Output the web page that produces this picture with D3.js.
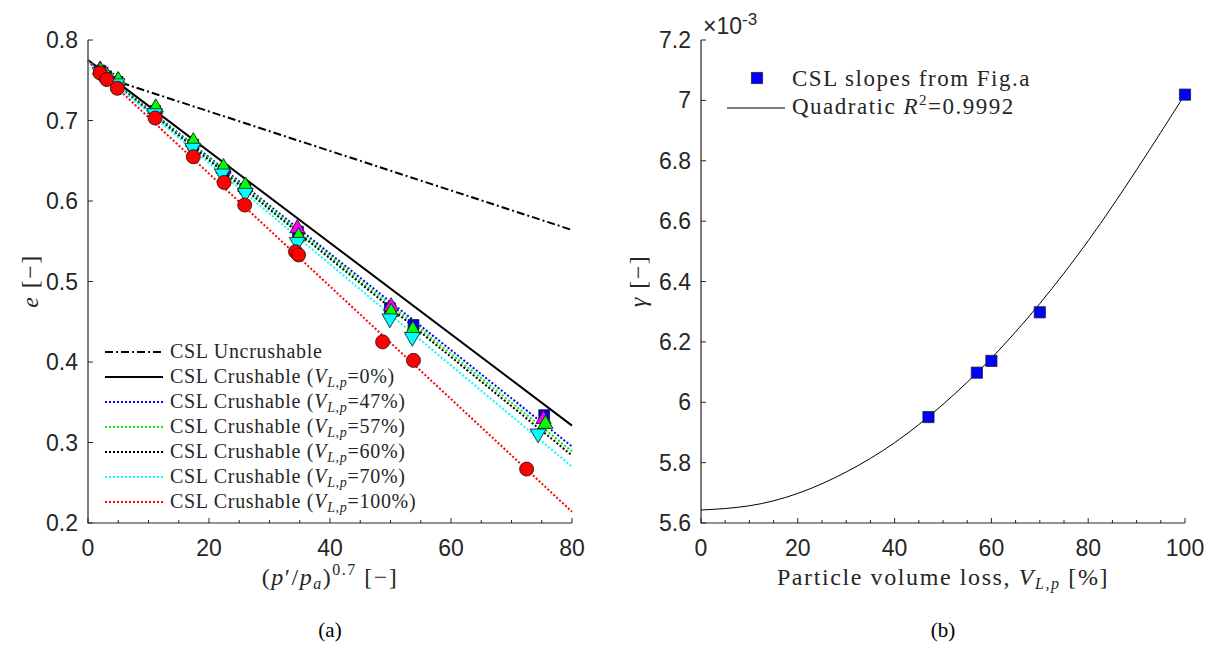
<!DOCTYPE html>
<html>
<head>
<meta charset="utf-8">
<script src="https://cdn.jsdelivr.net/npm/d3@7"></script>
<style>
  body { margin: 0; background: #fff; }
  svg { display: block; }
  .tick-label { font-family: "Liberation Sans", Arial, sans-serif; font-size: 23px; fill: #262626; }
  .serif { font-family: "Liberation Serif", "Times New Roman", serif; fill: #262626; }
</style>
</head>
<body>
<svg id="chart" width="1216" height="646"></svg>
<script>
// ---- panel (a) data ----
const xTicksA = [0, 20, 40, 60, 80];
const yTicksA = [0.2, 0.3, 0.4, 0.5, 0.6, 0.7, 0.8];

// CSL lines, read as end points [x, e]
const cslUncrushable = [[3, 0.753], [80, 0.564]];
const csl0 = [[0, 0.775], [80, 0.321]];
const csl47 = [[0, 0.774], [80, 0.295]];
const csl57 = [[0, 0.774], [80, 0.289]];
const csl60 = [[0, 0.773], [80, 0.284]];
const csl70 = [[0, 0.773], [80, 0.270]];
const csl100 = [[0, 0.774], [80, 0.214]];

// measured points
const sqX = [2.0, 3.0, 4.9, 11.1, 17.4, 22.4, 26.0, 34.7, 49.9, 53.8, 75.4];
const sqE = [0.762, 0.755, 0.748, 0.712, 0.670, 0.638, 0.615, 0.562, 0.467, 0.446, 0.334];
const magX = [2.0, 3.0, 4.9, 11.1, 17.4, 22.4, 26.0, 34.6, 50.1, 75.3];
const magE = [0.763, 0.756, 0.749, 0.714, 0.673, 0.640, 0.617, 0.566, 0.469, 0.329];
const grnX = [2.1, 3.1, 5.0, 11.2, 17.4, 22.4, 26.0, 34.8, 50.1, 53.7, 75.6];
const grnE = [0.762, 0.756, 0.750, 0.716, 0.674, 0.642, 0.619, 0.556, 0.462, 0.440, 0.323];
const cyX = [2.0, 3.0, 4.8, 11.0, 17.3, 22.2, 26.0, 34.6, 49.9, 53.6, 74.4];
const cyE = [0.760, 0.753, 0.746, 0.709, 0.666, 0.634, 0.610, 0.549, 0.454, 0.431, 0.311];
const redX = [2.0, 3.1, 4.85, 11.1, 17.4, 22.5, 25.9, 34.3, 34.8, 48.7, 53.8, 72.5];
const redE = [0.759, 0.751, 0.740, 0.703, 0.655, 0.623, 0.595, 0.537, 0.533, 0.425, 0.402, 0.267];

const legendA = ["Uncrushable", "0%", "47%", "57%", "60%", "70%", "100%"];

// ---- panel (b) data ----
const xTicksB = [0, 20, 40, 60, 80, 100];
const yTicksB = [5.6, 5.8, 6.0, 6.2, 6.4, 6.6, 6.8, 7.0, 7.2];
const slopeX = [47, 57, 60, 70, 100];
const slopeG = [5.951, 6.098, 6.137, 6.298, 7.019];   // x 1e-3
const fitX = [0, 10, 20, 30, 40, 50, 60, 70, 80, 90, 100];
const fitG = [5.643, 5.657, 5.698, 5.769, 5.866, 5.993, 6.146, 6.327, 6.535, 6.770, 7.020];

const svg = d3.select("#chart");
const axisColor = "#262626";

function drawAxes(x, y, xTicks, yTicks, xMinorStep, yFmt) {
    const [x0, x1] = x.range();
    const [y0, y1] = y.range();
    const g = svg.append("g");
    // minor x ticks
    const dom = x.domain();
    for (let v = dom[0]; v <= dom[1] + 1e-9; v += xMinorStep) {
        g.append("line").attr("x1", x(v)).attr("x2", x(v))
            .attr("y1", y0).attr("y2", y0 - (xTicks.includes(v) ? 5 : 3))
            .attr("stroke", axisColor).attr("stroke-width", 1);
    }
    yTicks.forEach(v => {
        g.append("line").attr("x1", x0).attr("x2", x0 + 5)
            .attr("y1", y(v)).attr("y2", y(v))
            .attr("stroke", axisColor).attr("stroke-width", 1);
    });
    g.append("path")
        .attr("d", `M${x0},${y1}V${y0}H${x1}`)
        .attr("fill", "none").attr("stroke", axisColor).attr("stroke-width", 1.2);
    g.selectAll(".xl").data(xTicks).enter().append("text")
        .attr("class", "tick-label")
        .attr("x", d => x(d)).attr("y", y0 + 33)
        .attr("text-anchor", "middle")
        .text(d => d);
    g.selectAll(".yl").data(yTicks).enter().append("text")
        .attr("class", "tick-label")
        .attr("x", x0 - 10).attr("y", d => y(d) + 8)
        .attr("text-anchor", "end")
        .text(yFmt);
}

// ================= panel (a) =================
const xA = d3.scaleLinear().domain([0, 80]).range([88, 572]);
const yA = d3.scaleLinear().domain([0.2, 0.8]).range([523, 40]);

drawAxes(xA, yA, xTicksA, yTicksA, 5, d => d3.format(".1f")(d));

const lineA = d3.line().x(d => xA(d[0])).y(d => yA(d[1]));
const dot = "2,2";
const cslLines = [
    { pts: cslUncrushable, color: "#000", dash: "8,3,2,3", w: 2 },
    { pts: csl0, color: "#000", dash: null, w: 2 },
    { pts: csl47, color: "#0000ff", dash: dot, w: 2 },
    { pts: csl57, color: "#00ee00", dash: dot, w: 2 },
    { pts: csl60, color: "#000", dash: dot, w: 2 },
    { pts: csl70, color: "#00ffff", dash: dot, w: 2 },
    { pts: csl100, color: "#ff0000", dash: dot, w: 2 }
];

cslLines.forEach(l => {
    svg.append("path").attr("d", lineA(l.pts))
        .attr("fill", "none").attr("stroke", l.color)
        .attr("stroke-width", l.w)
        .attr("stroke-dasharray", l.dash);
});

function drawMarkers(xs, ys, type, size, fill, rot) {
    const sym = d3.symbol().type(type).size(size);
    svg.append("g").selectAll("path")
        .data(xs.map((v, i) => [v, ys[i]]))
        .enter().append("path")
        .attr("d", sym)
        .attr("transform", d => `translate(${xA(d[0])},${yA(d[1])})` + (rot ? " rotate(180)" : ""))
        .attr("fill", fill)
        .attr("stroke", "#111").attr("stroke-width", 0.8);
}

drawMarkers(sqX, sqE, d3.symbolSquare, 115, "#0000ff", false);
drawMarkers(magX, magE, d3.symbolTriangle, 100, "#ff00ff", false);
drawMarkers(grnX, grnE, d3.symbolTriangle, 100, "#00ff00", false);
drawMarkers(cyX, cyE, d3.symbolTriangle, 110, "#00ffff", true);
drawMarkers(redX, redE, d3.symbolCircle, 155, "#ff0000", false);

// legend (a)
const legA = svg.append("g");
legendA.forEach((lab, i) => {
    const yy = 352 + i * 25;
    const l = cslLines[i];
    legA.append("line").attr("x1", 105).attr("x2", 163)
        .attr("y1", yy).attr("y2", yy)
        .attr("stroke", l.color).attr("stroke-width", l.w)
        .attr("stroke-dasharray", l.dash);
    const t = legA.append("text").attr("class", "serif")
        .attr("x", 170).attr("y", yy + 6).attr("font-size", 20)
        .attr("letter-spacing", 0.7);
    if (i === 0) {
        t.text("CSL Uncrushable");
    } else {
        t.append("tspan").text("CSL Crushable (");
        t.append("tspan").attr("font-style", "italic").text("V");
        t.append("tspan").attr("font-style", "italic").attr("font-size", 14).attr("dy", 4).text("L,p");
        t.append("tspan").attr("dy", -4).text("=" + lab + ")");
    }
});

// axis labels (a)
const xlabA = svg.append("text").attr("class", "serif").attr("font-size", 24)
    .attr("letter-spacing", 1.5)
    .attr("x", 330).attr("y", 585).attr("text-anchor", "middle");
xlabA.append("tspan").text("(");
xlabA.append("tspan").attr("font-style", "italic").text("p");
xlabA.append("tspan").text("′/");
xlabA.append("tspan").attr("font-style", "italic").text("p");
xlabA.append("tspan").attr("font-style", "italic").attr("font-size", 16).attr("dy", 4).text("a");
xlabA.append("tspan").attr("dy", -4).text(")");
xlabA.append("tspan").attr("font-size", 16).attr("dy", -10).text("0.7");
xlabA.append("tspan").attr("dy", 10).text("  [−]");

const ylabA = svg.append("text").attr("class", "serif").attr("font-size", 24)
    .attr("letter-spacing", 1.5)
    .attr("transform", "translate(38,281) rotate(-90)").attr("text-anchor", "middle");
ylabA.append("tspan").attr("font-style", "italic").text("e");
ylabA.append("tspan").text(" [−]");

svg.append("text").attr("font-family", "Liberation Serif, serif").attr("font-size", 21)
    .attr("fill", "#000").attr("x", 330).attr("y", 637).attr("text-anchor", "middle").text("(a)");

// ================= panel (b) =================
const xB = d3.scaleLinear().domain([0, 100]).range([701, 1185]);
const yB = d3.scaleLinear().domain([5.6, 7.2]).range([523, 40]);

drawAxes(xB, yB, xTicksB, yTicksB, 5, d => d3.format("~g")(+d.toFixed(1)));

// exponent label
const expo = svg.append("text").attr("class", "tick-label").attr("x", 703).attr("y", 34);
expo.append("tspan").text("×10");
expo.append("tspan").attr("font-size", 17).attr("dy", -9).text("-3");

const fitLine = d3.line().curve(d3.curveNatural)
    .x((d, i) => xB(fitX[i])).y(d => yB(d));
svg.append("path").attr("d", fitLine(fitG))
    .attr("fill", "none").attr("stroke", "#000").attr("stroke-width", 1);

const sqSym = d3.symbol().type(d3.symbolSquare).size(125);
svg.append("g").selectAll("path")
    .data(slopeX.map((v, i) => [v, slopeG[i]]))
    .enter().append("path")
    .attr("d", sqSym)
    .attr("transform", d => `translate(${xB(d[0])},${yB(d[1])})`)
    .attr("fill", "#0000ff").attr("stroke", "#222").attr("stroke-width", 0.8);

// legend (b)
svg.append("path").attr("d", sqSym)
    .attr("transform", "translate(757,78)")
    .attr("fill", "#0000ff").attr("stroke", "#222").attr("stroke-width", 0.8);
svg.append("line").attr("x1", 727).attr("x2", 785).attr("y1", 108).attr("y2", 108)
    .attr("stroke", "#000").attr("stroke-width", 1);
svg.append("text").attr("class", "serif").attr("font-size", 23)
    .attr("letter-spacing", 1.5)
    .attr("x", 792).attr("y", 86).text("CSL slopes from Fig.a");
const qt = svg.append("text").attr("class", "serif").attr("font-size", 23)
    .attr("letter-spacing", 1.5)
    .attr("x", 792).attr("y", 114);
qt.append("tspan").text("Quadratic ");
qt.append("tspan").attr("font-style", "italic").text("R");
qt.append("tspan").attr("font-size", 15).attr("dy", -9).text("2");
qt.append("tspan").attr("dy", 9).text("=0.9992");

// axis labels (b)
const xlabB = svg.append("text").attr("class", "serif").attr("font-size", 24)
    .attr("letter-spacing", 1.6)
    .attr("x", 943).attr("y", 585).attr("text-anchor", "middle");
xlabB.append("tspan").text("Particle volume loss, ");
xlabB.append("tspan").attr("font-style", "italic").text("V");
xlabB.append("tspan").attr("font-style", "italic").attr("font-size", 16).attr("dy", 4).text("L,p");
xlabB.append("tspan").attr("dy", -4).text("  [%]");

const ylabB = svg.append("text").attr("class", "serif").attr("font-size", 24)
    .attr("letter-spacing", 1.5)
    .attr("transform", "translate(646,281) rotate(-90)").attr("text-anchor", "middle");
ylabB.append("tspan").attr("font-style", "italic").text("γ");
ylabB.append("tspan").text(" [−]");

svg.append("text").attr("font-family", "Liberation Serif, serif").attr("font-size", 21)
    .attr("fill", "#000").attr("x", 943).attr("y", 637).attr("text-anchor", "middle").text("(b)");
</script>
</body>
</html>
